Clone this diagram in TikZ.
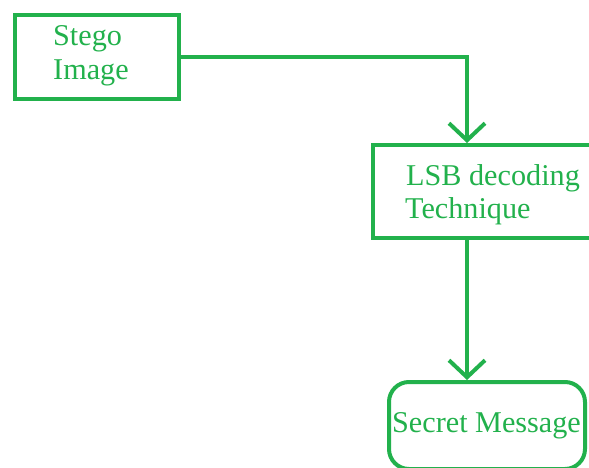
\documentclass[tikz,border=0pt]{standalone}
\usepackage{fontspec}
\setmainfont{Liberation Serif}
\usetikzlibrary{arrows.meta}
\definecolor{paintgreen}{RGB}{34,177,76}
\tikzset{
  box/.style={draw=paintgreen, line width=4pt, inner sep=0pt, anchor=north west},
  txt/.style={text=paintgreen, font=\fontsize{30.2}{34}\selectfont, inner sep=0pt, anchor=base west},
  arr/.style={draw=paintgreen, line width=4pt,
    -{Straight Barb[length=17pt,width=36pt,line width=4pt]}}
}
\begin{document}
\begin{tikzpicture}[x=1pt,y=-1pt]
  \useasboundingbox (0,0) rectangle (589,468);
  % boxes
  \node[box, minimum width=164pt, minimum height=84pt] (stego) at (13,13) {};
  \node[box, minimum width=250pt, minimum height=93pt] (lsb) at (371,143) {};
  \node[box, rounded corners=20pt, minimum width=196pt, minimum height=87pt] (secret) at (387,380) {};
  % labels
  \node[txt] (stegoA) at (53,46) {Stego};
  \node[txt] (stegoB) at (53,80) {Image};
  \node[txt] (lsbA) at (406,185) {LSB decoding};
  \node[txt] (lsbB) at (405,218) {Technique};
  \node[txt] (secretA) at (392,432) {Secret Message};
  % vertical line of the flow
  \coordinate (flowx) at (467,0);
  \draw[arr] (stego.east) -| (lsb.north -| flowx);
  \draw[arr] (lsb.south -| flowx) -- (secret.north -| flowx);
\end{tikzpicture}
\end{document}
